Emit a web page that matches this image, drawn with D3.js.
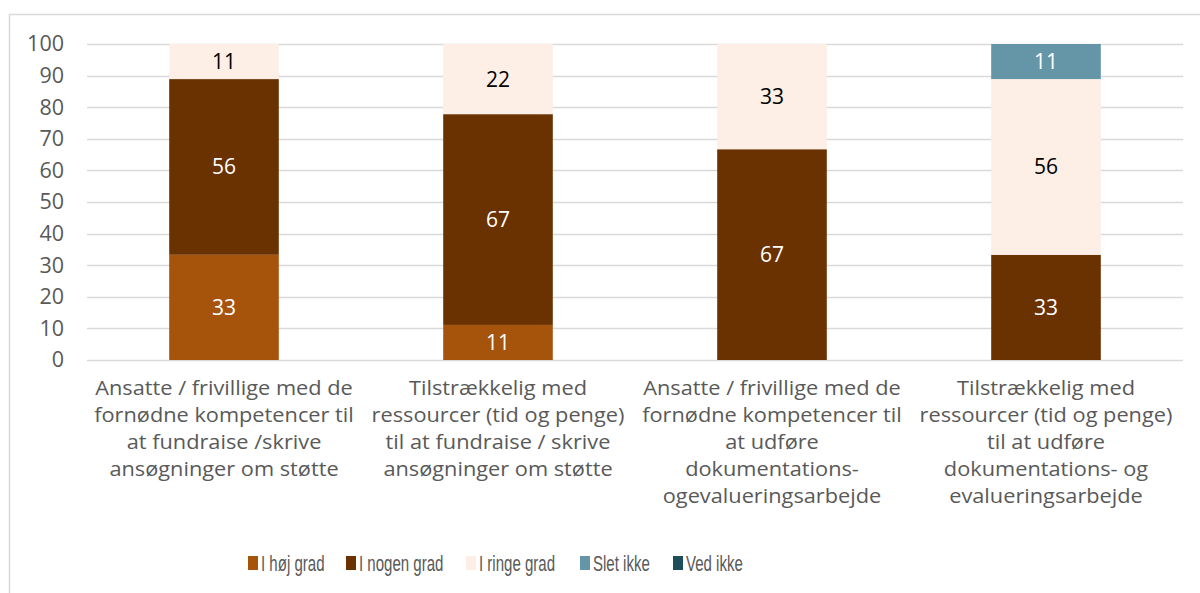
<!DOCTYPE html>
<html>
<head>
<meta charset="utf-8">
<script src="https://cdn.jsdelivr.net/npm/d3@7"></script>
<style>
  body { margin: 0; background: #fff; }
  svg { font-family: "Open Sans", "Liberation Sans", Arial, sans-serif; }
</style>
</head>
<body>
<svg id="chart"></svg>
<script>
// category labels, already split into lines as in the original
const categories = [
  ["Ansatte / frivillige med de", "fornødne kompetencer til", "at fundraise /skrive", "ansøgninger om støtte"],
  ["Tilstrækkelig med", "ressourcer (tid og penge)", "til at fundraise / skrive", "ansøgninger om støtte"],
  ["Ansatte / frivillige med de", "fornødne kompetencer til", "at udføre", "dokumentations-", "ogevalueringsarbejde"],
  ["Tilstrækkelig med", "ressourcer (tid og penge)", "til at udføre", "dokumentations- og", "evalueringsarbejde"]
];
const seriesNames = ["I høj grad", "I nogen grad", "I ringe grad", "Slet ikke", "Ved ikke"];
const seriesColors = ["#A6530C", "#6A3200", "#FDEFE5", "#6596A8", "#1E4D5C"];
const labelColors = ["#fff", "#fff", "#000", "#fff", "#fff"];
const hojGrad   = [33.3, 11.1, 0, 0];
const nogenGrad = [55.6, 66.7, 66.7, 33.3];
const ringeGrad = [11.1, 22.2, 33.3, 55.6];
const sletIkke  = [0, 0, 0, 11.1];
const vedIkke   = [0, 0, 0, 0];
const yTicks = [0, 10, 20, 30, 40, 50, 60, 70, 80, 90, 100];

const W = 1200, H = 593;
const margin = { top: 44, right: 17, bottom: 233, left: 87 };
const width = W - margin.left - margin.right;
const height = H - margin.top - margin.bottom;

const svg = d3.select("#chart").attr("width", W).attr("height", H);

// outer frame
svg.append("rect")
  .attr("x", 9.5).attr("y", 14.5)
  .attr("width", W).attr("height", H)
  .attr("fill", "none").attr("stroke", "#d9d9d9").attr("stroke-width", 1.5);

const chart = svg.append("g").attr("transform", `translate(${margin.left},${margin.top})`);

const rows = categories.map((c, i) => ({
  idx: i,
  [seriesNames[0]]: hojGrad[i],
  [seriesNames[1]]: nogenGrad[i],
  [seriesNames[2]]: ringeGrad[i],
  [seriesNames[3]]: sletIkke[i],
  [seriesNames[4]]: vedIkke[i]
}));

const xScale = d3.scaleBand().domain(d3.range(categories.length)).range([0, width]).paddingInner(0.6).paddingOuter(0.3);
const yScale = d3.scaleLinear().domain([0, 100]).range([height, 0]);
const color = d3.scaleOrdinal().domain(seriesNames).range(seriesColors);

// gridlines
chart.append("g")
  .selectAll("line")
  .data(yTicks)
  .join("line")
  .attr("x1", 0).attr("x2", width)
  .attr("y1", d => Math.round(yScale(d)) + 0.5)
  .attr("y2", d => Math.round(yScale(d)) + 0.5)
  .attr("stroke", "#d9d9d9").attr("stroke-width", 1.5);

// y axis labels
const yAxis = d3.axisLeft(yScale).tickValues(yTicks).tickSize(0).tickPadding(23);
chart.append("g").call(yAxis)
  .call(g => g.select(".domain").remove())
  .selectAll("text")
  .attr("fill", "#595959")
  .style("font-size", "21.5px")
  .style("font-family", "'Open Sans', sans-serif");

const stack = d3.stack().keys(seriesNames);
const series = stack(rows);

const layers = chart.selectAll(".layer")
  .data(series)
  .join("g")
  .attr("class", "layer")
  .attr("fill", d => color(d.key));

layers.selectAll("rect")
  .data(d => d.filter(p => p[1] - p[0] > 0))
  .join("rect")
  .attr("x", d => xScale(d.data.idx))
  .attr("y", d => yScale(d[1]))
  .attr("width", xScale.bandwidth())
  .attr("height", d => yScale(d[0]) - yScale(d[1]));

const fmt = d3.format(".0f");
series.forEach((s, si) => {
  chart.append("g")
    .selectAll("text")
    .data(s.filter(p => p[1] - p[0] > 0))
    .join("text")
    .attr("x", d => xScale(d.data.idx) + xScale.bandwidth() / 2)
    .attr("y", d => yScale((d[0] + d[1]) / 2))
    .attr("dy", "0.36em")
    .attr("text-anchor", "middle")
    .attr("fill", labelColors[si])
    .style("font-size", "21px")
    .text(d => fmt(d[1] - d[0]));
});

// category labels (slightly widened to match the original font)
const catG = chart.append("g")
  .selectAll("text")
  .data(categories)
  .join("text")
  .attr("text-anchor", "middle")
  .attr("fill", "#595959")
  .style("font-size", "19.6px")
  .attr("transform", (d, i) => `translate(${xScale(i) + xScale.bandwidth() / 2},${height + 35}) scale(1.11,1.04)`);

catG.selectAll("tspan")
  .data(d => d)
  .join("tspan")
  .attr("x", 0)
  .attr("y", (d, i) => i * 26)
  .text(d => d);

// legend (narrow lettering like the original)
const legendX = [248, 346, 466, 580, 673];
const legend = svg.append("g").attr("class", "legend");
const items = legend.selectAll("g")
  .data(seriesNames)
  .join("g")
  .attr("transform", (d, i) => `translate(${legendX[i]},563)`);

items.append("rect")
  .attr("x", 0).attr("y", -7)
  .attr("width", 10).attr("height", 14)
  .attr("fill", d => color(d));

items.append("text")
  .attr("transform", "translate(13,0) scale(0.7,1)")
  .attr("dy", "0.36em")
  .attr("fill", "#595959")
  .style("font-size", "21.5px")
  .style("font-family", "'Liberation Sans', sans-serif")
  .text(d => d);
</script>
</body>
</html>
